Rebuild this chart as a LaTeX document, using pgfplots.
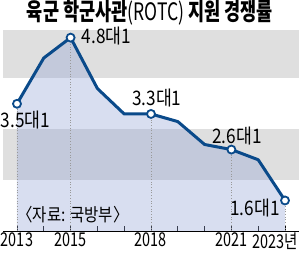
\documentclass[border=0pt]{standalone}
\usepackage{fontspec}
\usepackage{pgfplots}
\pgfplotsset{compat=1.18}
\setmainfont{Noto Sans CJK KR}
\newfontfamily\krc[FakeStretch=0.86]{Noto Sans CJK KR}
\newfontfamily\krk[FakeStretch=0.76]{Noto Sans CJK KR}
\newfontfamily\krt[FakeStretch=0.73]{Noto Sans CJK KR}
\definecolor{linec}{RGB}{10,74,138}
\definecolor{bandgray}{RGB}{223,223,223}
\definecolor{fillc}{RGB}{151,167,215}
\begin{document}
\begin{tikzpicture}
\useasboundingbox (0,0) rectangle (300pt,256pt);
\node at (150pt,243pt) {\krt\fontsize{24}{24}\selectfont\bfseries 육군 학군사관{\mdseries(ROTC)} 지원 경쟁률};
\begin{axis}[
  at={(3pt,25pt)}, anchor=south west,
  scale only axis, width=296pt, height=201pt,
  xmin=2012.478, xmax=2023.522, ymin=1, ymax=4.95,
  axis x line*=bottom, axis y line=none,
  x axis line style={black, line width=0.9pt},
  xtick={2013,2014,...,2023},
  xticklabels={2013,,2015,,,2018,,,2021,,\llap{2023}\rlap{년}},
  tick align=inside, major tick length=4.5pt,
  xtick style={black, line width=0.7pt},
  ytick=\empty,
  clip=false,
  /pgf/number format/assume math mode=true,
  xticklabel style={font=\krk\fontsize{19}{19}\selectfont, inner sep=1.5pt},
]
\fill[bandgray] (axis cs:2012.478,2) rectangle (axis cs:2023.522,3);
\fill[bandgray] (axis cs:2012.478,4) rectangle (axis cs:2023.522,4.95);
\addplot[fill=fillc, fill opacity=0.375, draw=none] coordinates {
 (2013,1) (2013,3.5) (2014,4.4) (2015,4.8) (2016,3.8) (2017,3.3) (2018,3.3)
 (2019,3.15) (2020,2.7) (2021,2.6) (2022,2.4) (2023,1.6) (2023,1)};
\draw[gray!80, dotted, line width=0.7pt] (axis cs:2013,1) -- (axis cs:2013,3.5);
\draw[gray!80, dotted, line width=0.7pt] (axis cs:2015,1) -- (axis cs:2015,4.8);
\draw[gray!80, dotted, line width=0.7pt] (axis cs:2018,1) -- (axis cs:2018,3.3);
\draw[gray!80, dotted, line width=0.7pt] (axis cs:2021,1) -- (axis cs:2021,2.6);
\draw[gray!80, dotted, line width=0.7pt] (axis cs:2023,1) -- (axis cs:2023,1.6);
\addplot[draw=linec, line width=3pt, line join=round] coordinates {
 (2013,3.5) (2014,4.4) (2015,4.8) (2016,3.8) (2017,3.3) (2018,3.3)
 (2019,3.15) (2020,2.7) (2021,2.6) (2022,2.4) (2023,1.6)};
\addplot[only marks, mark=*, mark size=4pt, mark options={fill=white, draw=linec, line width=1.8pt}] coordinates {
 (2013,3.5) (2015,4.8) (2018,3.3) (2021,2.6) (2023,1.6)};
\tikzset{lbl/.style={font=\krc\fontsize{20}{20}\selectfont, inner sep=0pt}}
\node[lbl, anchor=west] at (axis cs:2012.39,3.19) {3.5대1};
\node[lbl] at (axis cs:2016.34,4.84) {4.8대1};
\node[lbl] at (axis cs:2018.22,3.62) {3.3대1};
\node[lbl] at (axis cs:2021.21,2.87) {2.6대1};
\node[lbl] at (axis cs:2021.88,1.46) {1.6대1};
\node[font=\krc\fontsize{18}{18}\selectfont, inner sep=0pt] at (axis cs:2015.09,1.32) {〈자료: 국방부〉};
\end{axis}
\end{tikzpicture}
\end{document}
